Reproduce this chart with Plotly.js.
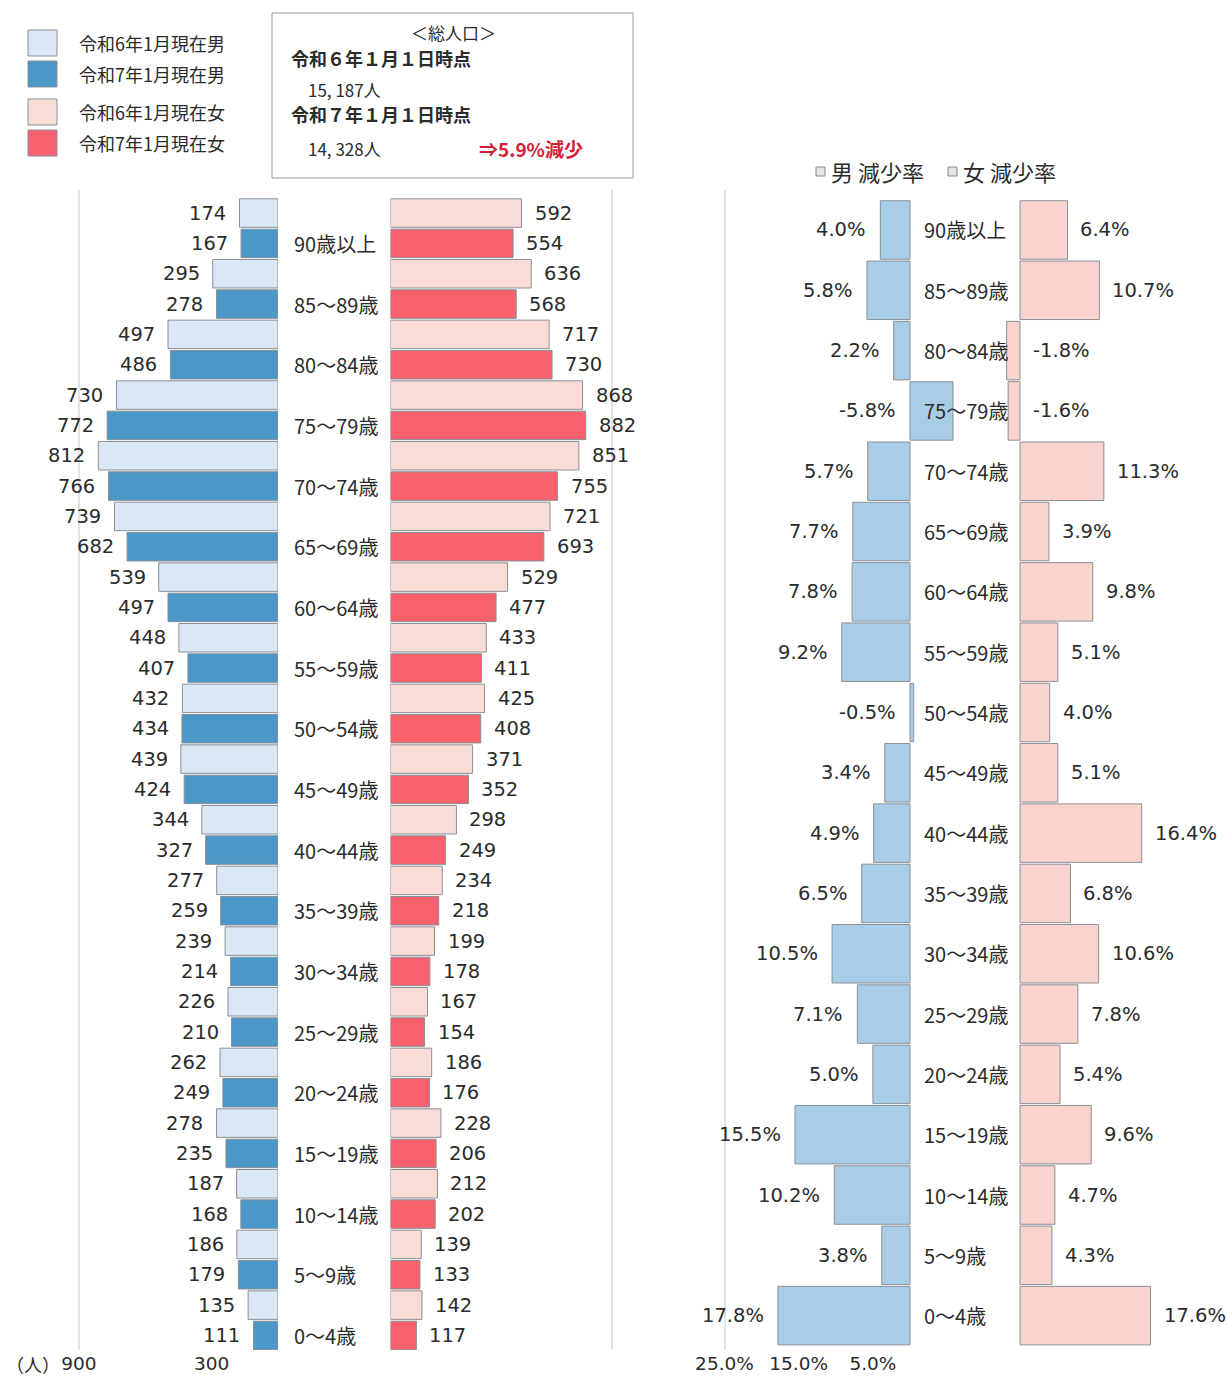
<!DOCTYPE html>
<html><head><meta charset="utf-8">
<script src="https://cdn.plot.ly/plotly-3.0.1.min.js"></script>
<style>html,body{margin:0;padding:0;background:#fff}#chart{width:1228px;height:1378px}</style>
</head><body><div id="chart"></div>
<script>
// ---- data ----
const ageGroups = ['90歳以上','85～89歳','80～84歳','75～79歳','70～74歳','65～69歳','60～64歳','55～59歳','50～54歳','45～49歳','40～44歳','35～39歳','30～34歳','25～29歳','20～24歳','15～19歳','10～14歳','5～9歳','0～4歳'];
const male2024   = [174,295,497,730,812,739,539,448,432,439,344,277,239,226,262,278,187,186,135];
const male2025   = [167,278,486,772,766,682,497,407,434,424,327,259,214,210,249,235,168,179,111];
const female2024 = [592,636,717,868,851,721,529,433,425,371,298,234,199,167,186,228,212,139,142];
const female2025 = [554,568,730,882,755,693,477,411,408,352,249,218,178,154,176,206,202,133,117];
const maleRate   = [4.0,5.8,2.2,-5.8,5.7,7.7,7.8,9.2,-0.5,3.4,4.9,6.5,10.5,7.1,5.0,15.5,10.2,3.8,17.8];
const femaleRate = [6.4,10.7,-1.8,-1.6,11.3,3.9,9.8,5.1,4.0,5.1,16.4,6.8,10.6,7.8,5.4,9.6,4.7,4.3,17.6];
const legendLabels = ['令和6年1月現在男','令和7年1月現在男','令和6年1月現在女','令和7年1月現在女'];
const popTickVals = [900,300];
const popTickText = ['900','300'];
const rateTickVals = [25,15,5];
const rateTickText = ['25.0%','15.0%','5.0%'];
const rateLegend = ['男 減少率','女 減少率'];
const boxLines = ['＜総人口＞','令和６年１月１日時点','15, 187人','令和７年１月１日時点','14, 328人'];
const changeText = '⇒5.9%減少';
const unitText = '（人）';

// ---- style ----
const W = 1228, H = 1378;
const px = x => x / W, py = y => 1 - y / H;
const FONT = '"Noto Sans CJK JP", "Noto Sans", sans-serif';
const NUMFONT = '"DejaVu Sans", "Noto Sans CJK JP", sans-serif';
const TXT = '#2b2b2b';
const C = {
  m24: '#dae7f4', m25: '#4b97c8', f24: '#fadcd6', f25: '#f6616c',
  mr: '#a9cde6', fr: '#f9d3ce', edge: '#8a9098'
};
const idx = ageGroups.map((_, i) => i);
const popScale = 0.2213, rateScale = 7.42;

const bar = (x, y, w, xa, ya, color) => ({
  type: 'bar', orientation: 'h', x: x, y: y, width: w, xaxis: xa, yaxis: ya,
  marker: {color: color, line: {color: C.edge, width: 1}}, hoverinfo: 'x', showlegend: false
});

const traces = [
  bar(male2024, idx.map(i => i - 0.25), 0.47, 'x', 'y', C.m24),
  bar(male2025, idx.map(i => i + 0.25), 0.47, 'x', 'y', C.m25),
  bar(female2024, idx.map(i => i - 0.25), 0.47, 'x2', 'y', C.f24),
  bar(female2025, idx.map(i => i + 0.25), 0.47, 'x2', 'y', C.f25),
  bar(maleRate, idx, 0.97, 'x3', 'y2', C.mr),
  bar(femaleRate, idx, 0.97, 'x4', 'y2', C.fr)
];

const ann = [];
const A = o => ann.push(Object.assign({showarrow: false, yanchor: 'middle', xanchor: 'center',
  font: {family: FONT, size: 20, color: TXT}}, o));
const NF = {family: NUMFONT, size: 19.5, color: TXT};

idx.forEach(i => {
  A({xref: 'x', yref: 'y', x: male2024[i], y: i - 0.25, text: String(male2024[i]), xanchor: 'right', xshift: -11, font: NF});
  A({xref: 'x', yref: 'y', x: male2025[i], y: i + 0.25, text: String(male2025[i]), xanchor: 'right', xshift: -11, font: NF});
  A({xref: 'x2', yref: 'y', x: female2024[i], y: i - 0.25, text: String(female2024[i]), xanchor: 'left', xshift: 11, font: NF});
  A({xref: 'x2', yref: 'y', x: female2025[i], y: i + 0.25, text: String(female2025[i]), xanchor: 'left', xshift: 11, font: NF});
  A({xref: 'paper', yref: 'y', x: px(292), y: i + 0.25, text: ageGroups[i], xanchor: 'left'});
  A({xref: 'paper', yref: 'y2', x: px(922), y: i, text: ageGroups[i], xanchor: 'left'});
  A({xref: 'x3', yref: 'y2', x: Math.max(maleRate[i], 0), y: i, text: maleRate[i].toFixed(1) + '%', xanchor: 'right', xshift: -12, font: NF});
  A({xref: 'x4', yref: 'y2', x: Math.max(femaleRate[i], 0), y: i, text: femaleRate[i].toFixed(1) + '%', xanchor: 'left', xshift: 11, font: NF});
});

// legend (top left)
const shapes = [];
const swY = [43, 74, 112, 143];
const swC = [C.m24, C.m25, C.f24, C.f25];
legendLabels.forEach((t, k) => {
  shapes.push({type: 'rect', xref: 'paper', yref: 'paper', x0: px(28), x1: px(57), y0: py(swY[k] - 13), y1: py(swY[k] + 13),
    fillcolor: swC[k], line: {color: C.edge, width: 1}});
  A({xref: 'paper', yref: 'paper', x: px(77), y: py(swY[k]), text: t, xanchor: 'left', font: {family: FONT, size: 18, color: TXT}});
});

// total population box
shapes.push({type: 'rect', xref: 'paper', yref: 'paper', x0: px(272), x1: px(633), y0: py(178), y1: py(13),
  fillcolor: 'rgba(0,0,0,0)', line: {color: '#9a9a9a', width: 1}});
A({xref: 'paper', yref: 'paper', x: px(453), y: py(33), text: boxLines[0], font: {family: FONT, size: 17, color: TXT}});
A({xref: 'paper', yref: 'paper', x: px(289), y: py(58), text: '<b>' + boxLines[1] + '</b>', xanchor: 'left', font: {family: FONT, size: 18, color: TXT}});
A({xref: 'paper', yref: 'paper', x: px(306), y: py(89), text: boxLines[2], xanchor: 'left', font: {family: FONT, size: 17, color: TXT}});
A({xref: 'paper', yref: 'paper', x: px(289), y: py(114), text: '<b>' + boxLines[3] + '</b>', xanchor: 'left', font: {family: FONT, size: 18, color: TXT}});
A({xref: 'paper', yref: 'paper', x: px(306), y: py(149), text: boxLines[4], xanchor: 'left', font: {family: FONT, size: 17, color: TXT}});
A({xref: 'paper', yref: 'paper', x: px(477), y: py(148), text: '<b>' + changeText + '</b>', xanchor: 'left', font: {family: FONT, size: 19, color: '#d42035'}});

// rate legend
[[816, 0], [948, 1]].forEach(([x, k]) => {
  shapes.push({type: 'rect', xref: 'paper', yref: 'paper', x0: px(x), x1: px(x + 9), y0: py(176), y1: py(167),
    fillcolor: '#e6e6e6', line: {color: '#8a8a8a', width: 1}});
  A({xref: 'paper', yref: 'paper', x: px(x + 13), y: py(171), text: rateLegend[k], xanchor: 'left', font: {family: FONT, size: 22, color: TXT}});
});

A({xref: 'paper', yref: 'paper', x: px(4), y: py(1364), text: unitText, xanchor: 'left', font: {family: FONT, size: 18, color: TXT}});

const yDom = [py(1350), py(190)];
const gridC = '#e2e2e2';
const TF = {family: NUMFONT, size: 18.5, color: TXT};
const layout = {
  width: W, height: H, margin: {l: 0, r: 0, t: 0, b: 0},
  paper_bgcolor: '#ffffff', plot_bgcolor: 'rgba(0,0,0,0)',
  barmode: 'overlay', showlegend: false,
  font: {family: FONT, color: TXT},
  xaxis: {domain: [0, px(278)], range: [278 / popScale, 0], anchor: 'y',
    tickmode: 'array', tickvals: popTickVals, ticktext: popTickText, showgrid: false, zeroline: false,
    minor: {tickmode: 'array', tickvals: [900], showgrid: true, gridcolor: gridC, gridwidth: 2, ticklen: 0},
    ticks: '', ticklabelstandoff: 0, tickfont: TF},
  xaxis2: {domain: [px(390.5), px(640)], range: [0, (640 - 390.5) / popScale], anchor: 'y',
    showticklabels: false, showgrid: false, zeroline: false, ticks: '',
    minor: {tickmode: 'array', tickvals: [1000], showgrid: true, gridcolor: gridC, gridwidth: 2, ticklen: 0}},
  yaxis: {domain: yDom, range: [18.49, -0.63], visible: false, anchor: 'x'},
  xaxis3: {domain: [px(690), px(1000)], range: [(910 - 690) / rateScale, -(1000 - 910) / rateScale], anchor: 'y2',
    tickmode: 'array', tickvals: rateTickVals, ticktext: rateTickText, showgrid: false, zeroline: false, ticks: '',
    minor: {tickmode: 'array', tickvals: [25], showgrid: true, gridcolor: gridC, gridwidth: 2, ticklen: 0},
    ticklabelstandoff: 0, tickfont: TF},
  xaxis4: {domain: [px(990), px(1228)], range: [-(1020 - 990) / rateScale, (1228 - 1020) / rateScale], anchor: 'y2',
    showticklabels: false, showgrid: false, zeroline: false, ticks: ''},
  yaxis2: {domain: yDom, range: [18.57, -0.663], visible: false, anchor: 'x3'},
  shapes: shapes, annotations: ann
};
Plotly.newPlot('chart', traces, layout, {displayModeBar: false, staticPlot: true});
</script></body></html>
